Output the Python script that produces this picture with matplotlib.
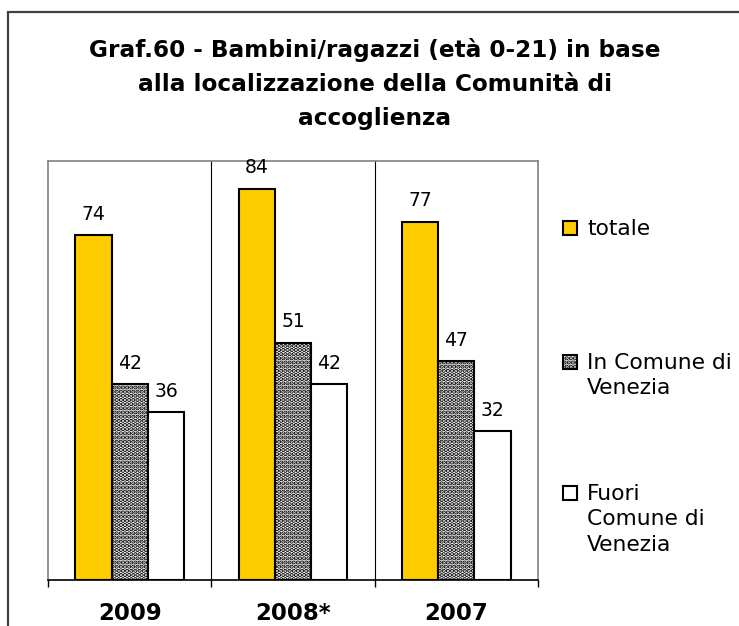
import matplotlib
matplotlib.use("Agg")
import matplotlib.pyplot as plt
from matplotlib.patches import Rectangle
import numpy as np

# Dati
anni = ["2009", "2008*", "2007"]
totale = [74, 84, 77]
in_comune = [42, 51, 47]
fuori_comune = [36, 42, 32]

serie = [
    ("totale", totale, dict(facecolor="#FFCC00", hatch=None)),
    ("In Comune di\nVenezia", in_comune, dict(facecolor="white", hatch="....")),
    ("Fuori\nComune di\nVenezia", fuori_comune, dict(facecolor="white", hatch=None)),
]

plt.rcParams["font.family"] = ["DejaVu Sans"]
plt.rcParams["hatch.linewidth"] = 2.2
plt.rcParams["hatch.color"] = "black"

W, H = 739, 626
fig = plt.figure(figsize=(W / 100, H / 100), dpi=100)

# cornice esterna del grafico
fig.patches.append(Rectangle((8 / W, -0.1), 1.2, (H - 12) / H + 0.1,
                             transform=fig.transFigure, fill=False,
                             edgecolor="#404040", linewidth=1.6))

ax = fig.add_axes([48 / W, 46 / H, 490 / W, 419 / H])

x = np.arange(len(anni))
w = 1 / 4.5
for i, (nome, valori, stile) in enumerate(serie):
    barre = ax.bar(x + (i - 1) * w, valori, width=w, edgecolor="black",
                   linewidth=1.5, label=nome, **stile)
    for b, v in zip(barre, valori):
        ax.annotate(str(v), (b.get_x() + b.get_width() / 2, b.get_height()),
                    xytext=(0, 21), textcoords="offset pixels",
                    ha="center", va="center", fontsize=13.5)

ax.set_xlim(-0.5, 2.5)
ax.set_ylim(0, 90)
for sep in [0.5, 1.5]:
    ax.axvline(sep, color="black", linewidth=0.8, zorder=0)

ax.set_yticks([])
ax.set_xticks(x)
ax.set_xticklabels(anni, fontsize=16.5, fontweight="bold")
ax.tick_params(axis="x", which="major", length=0, pad=16)
ax.set_xticks([-0.5, 0.5, 1.5, 2.5], minor=True)
ax.tick_params(axis="x", which="minor", length=5, width=1, color="black")
for s in ["top", "left", "right"]:
    ax.spines[s].set_color("#808080")
    ax.spines[s].set_linewidth(1.2)
ax.spines["bottom"].set_color("black")
ax.spines["bottom"].set_linewidth(1.2)

fig.text(375 / W, 1 - 84 / H,
         "Graf.60 - Bambini/ragazzi (età 0-21) in base\n"
         "alla localizzazione della Comunità di\naccoglienza",
         ha="center", va="center", fontsize=16.7, fontweight="bold",
         linespacing=1.6)

# legenda
leg_y = [228, 362, 493]
for (nome, valori, stile), yy in zip(serie, leg_y):
    fig.patches.append(Rectangle((563 / W, 1 - (yy + 7) / H), 14 / W, 14 / H,
                                 transform=fig.transFigure, edgecolor="black",
                                 linewidth=1.5, **stile))
    fig.text(587 / W, 1 - (yy - 9) / H, nome, ha="left", va="top",
             fontsize=15.7, linespacing=1.34)

fig.savefig("out.png", dpi=100)
